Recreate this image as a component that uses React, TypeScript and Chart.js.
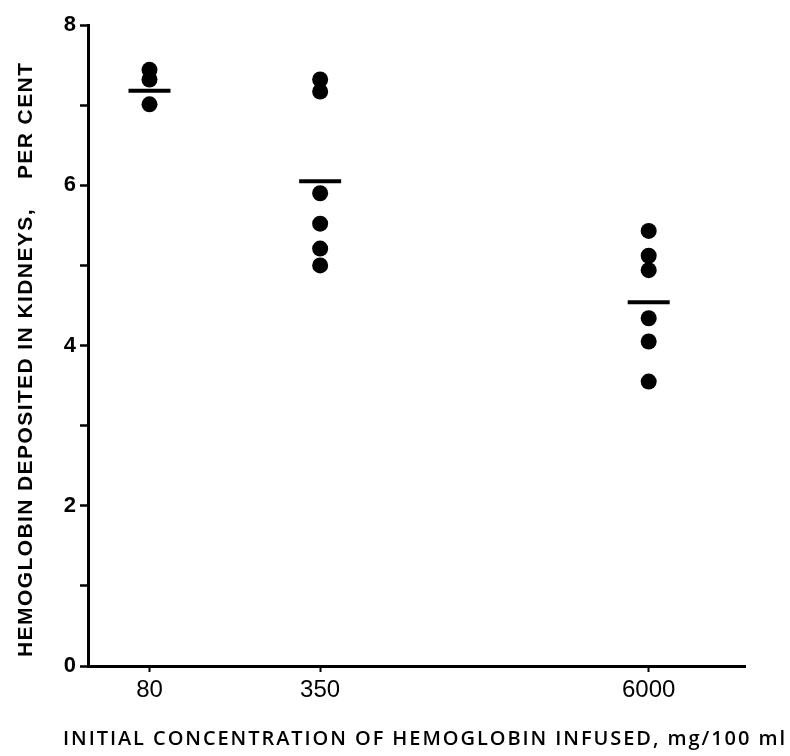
import React, { useEffect, useRef } from 'react';
import { Chart, registerables } from 'chart.js';

Chart.register(...registerables);

// ---- data ----
const DOSES = [80, 350, 6000];
const GROUP_80 = [7.44, 7.32, 7.01];
const GROUP_350 = [7.32, 7.17, 5.9, 5.52, 5.21, 5.0];
const GROUP_6000 = [5.43, 5.12, 4.94, 4.34, 4.05, 3.55];
const MEANS = [7.18, 6.05, 4.54];
const Y_MIN = 0;
const Y_MAX = 8;
const Y_LABELLED = [0, 2, 4, 6, 8];
const X_MIN = 47;
const X_MAX = 13800;
const X_TITLE = 'INITIAL CONCENTRATION OF HEMOGLOBIN INFUSED, mg/100 ml';
const Y_TITLE = 'HEMOGLOBIN DEPOSITED IN KIDNEYS,    PER CENT';

const FONT = '"Liberation Sans", Arial, sans-serif';
const TITLE_FONT = '"Open Sans", "Liberation Sans", sans-serif';

function drawSpaced(ctx: CanvasRenderingContext2D, text: string, x0: number, x1: number, y: number) {
  const chars = Array.from(text);
  const widths = chars.map((c) => ctx.measureText(c).width);
  const total = widths.reduce((a, b) => a + b, 0);
  const extra = chars.length > 1 ? (x1 - x0 - total) / (chars.length - 1) : 0;
  let cx = x0;
  chars.forEach((c, i) => {
    ctx.fillText(c, cx, y);
    cx += widths[i] + extra;
  });
}

const titlesPlugin = {
  id: 'spacedTitles',
  afterDraw(chart: any) {
    const ctx: CanvasRenderingContext2D = chart.ctx;
    ctx.save();
    ctx.fillStyle = '#000';
    ctx.textAlign = 'left';
    ctx.textBaseline = 'middle';
    // x title
    ctx.font = `600 20px ${TITLE_FONT}`;
    drawSpaced(ctx, X_TITLE, 63, 785, 739);
    // y title (rotated)
    ctx.font = `bold 21px ${FONT}`;
    ctx.translate(26, 657);
    ctx.rotate(-Math.PI / 2);
    drawSpaced(ctx, Y_TITLE, 0, 594, 0);
    ctx.restore();
  },
};

export default function App() {
  const ref = useRef<HTMLCanvasElement | null>(null);

  useEffect(() => {
    if (!ref.current) return;
    const groups = [GROUP_80, GROUP_350, GROUP_6000];
    const dots = groups.flatMap((g, i) => g.map((y) => ({ x: DOSES[i], y })));
    const means = MEANS.map((y, i) => ({ x: DOSES[i], y }));

    const chart = new Chart(ref.current, {
      type: 'scatter',
      data: {
        datasets: [
          {
            data: dots,
            pointRadius: 8,
            pointHoverRadius: 8,
            backgroundColor: '#000',
            borderColor: '#000',
            borderWidth: 0,
            showLine: false,
          },
          {
            data: means,
            pointStyle: 'line',
            pointRadius: 21,
            pointHoverRadius: 21,
            borderWidth: 4,
            borderColor: '#000',
            backgroundColor: '#000',
            showLine: false,
          },
        ],
      },
      options: {
        responsive: false,
        animation: false,
        events: [],
        layout: { padding: { top: 8, right: 45, left: 0, bottom: 0 } },
        plugins: { legend: { display: false }, tooltip: { enabled: false }, title: { display: false } },
        scales: {
          x: {
            type: 'logarithmic',
            min: X_MIN,
            max: X_MAX,
            afterBuildTicks: (s: any) => {
              s.ticks = DOSES.map((v) => ({ value: v }));
            },
            afterFit: (s: any) => {
              s.height = 90;
              s.paddingLeft = 0;
              s.paddingRight = 0;
            },
            ticks: {
              autoSkip: false,
              maxRotation: 0,
              padding: 4,
              color: '#000',
              font: { family: FONT, size: 24 },
              callback: (v: any) => String(v),
            },
            grid: {
              display: true,
              drawOnChartArea: false,
              drawTicks: true,
              tickLength: 6,
              tickWidth: 2,
              tickColor: '#000',
            },
            border: { display: true, color: '#000', width: 3 },
          },
          y: {
            type: 'linear',
            min: Y_MIN,
            max: Y_MAX,
            afterFit: (s: any) => {
              s.width = 88;
              s.paddingTop = 0;
              s.paddingBottom = 0;
            },
            ticks: {
              stepSize: 1,
              padding: 4,
              color: '#000',
              font: { family: FONT, size: 22, weight: 'bold', lineHeight: 1 },
              callback: (v: any) => (Y_LABELLED.includes(Number(v)) ? String(v) : ''),
            },
            grid: {
              display: true,
              drawOnChartArea: false,
              drawTicks: true,
              tickLength: 8,
              tickWidth: 2.5,
              tickColor: '#000',
            },
            border: { display: true, color: '#000', width: 3 },
          },
        },
      },
      plugins: [titlesPlugin],
    } as any);

    return () => chart.destroy();
  }, []);

  return (
    <div style={{ position: 'fixed', left: 0, top: 0, width: 790, height: 756, background: '#fff' }}>
      <canvas ref={ref} width={790} height={756} style={{ display: 'block' }} />
    </div>
  );
}
